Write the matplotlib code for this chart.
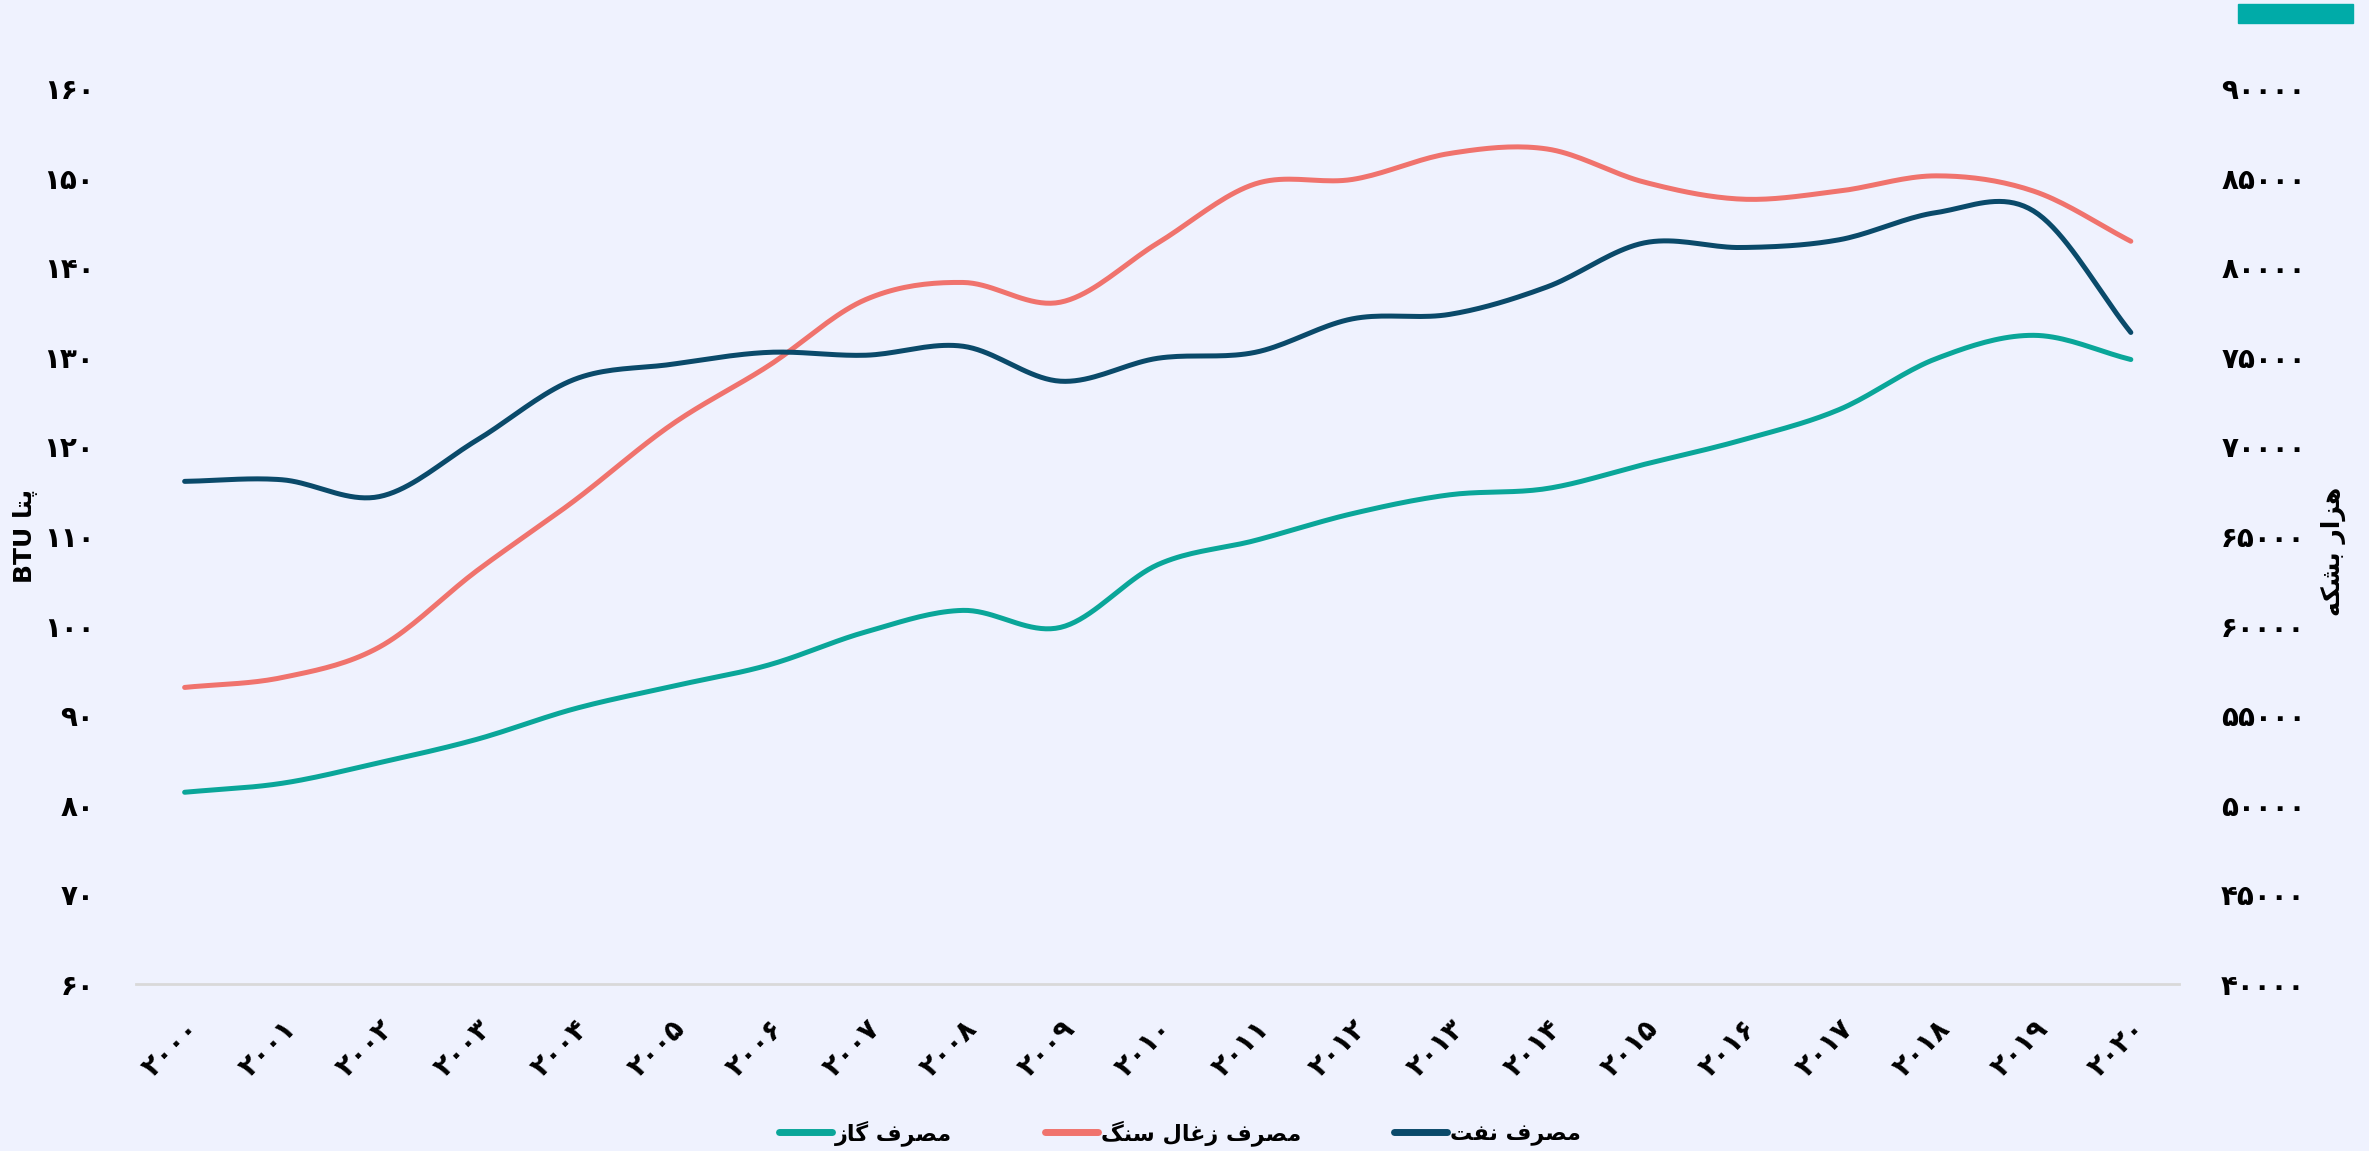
import matplotlib
matplotlib.use("Agg")
import matplotlib.pyplot as plt
import numpy as np
from matplotlib.lines import Line2D
from matplotlib.patches import Rectangle

plt.rcParams['font.family'] = ['DejaVu Sans']

years = list(range(2000, 2021))
gas = [81.4, 82.4, 84.7, 87.3, 90.7, 93.2, 95.6, 99.3, 101.7, 99.8, 106.8,
       109.5, 112.5, 114.6, 115.3, 118.0, 120.7, 124.1, 129.8, 132.4, 129.7]
coal = [93.1, 94.2, 97.6, 106.1, 113.9, 122.4, 129.0, 136.4, 138.3, 136.1, 142.7,
        149.3, 149.8, 152.7, 153.2, 149.5, 147.6, 148.5, 150.2, 148.5, 142.9]
oil = [68050, 68140, 67200, 70340, 73730, 74580, 75250, 75090, 75590, 73640, 74920,
       75250, 77120, 77370, 78900, 81360, 81100, 81530, 83050, 83140, 76360]

left_ticks = list(range(60, 161, 10))
right_ticks = list(range(40000, 90001, 5000))

lbl_gas = "مصرف گاز"
lbl_coal = "مصرف زغال سنگ"
lbl_oil = "مصرف نفت"
lbl_left = "پتا"
lbl_right = "هزار بشکه"

c_gas = "#0aa699"
c_coal = "#f0736d"
c_oil = "#0a4a6a"
bg = "#eff2fe"

# contextual forms: isolated, final, initial, medial
FORMS = {
    'ا': ('\uFE8D', '\uFE8E', None, None),
    'ب': ('\uFE8F', '\uFE90', '\uFE91', '\uFE92'),
    'پ': ('\uFB56', '\uFB57', '\uFB58', '\uFB59'),
    'ت': ('\uFE95', '\uFE96', '\uFE97', '\uFE98'),
    'ر': ('\uFEAD', '\uFEAE', None, None),
    'ز': ('\uFEAF', '\uFEB0', None, None),
    'س': ('\uFEB1', '\uFEB2', '\uFEB3', '\uFEB4'),
    'ش': ('\uFEB5', '\uFEB6', '\uFEB7', '\uFEB8'),
    'ص': ('\uFEB9', '\uFEBA', '\uFEBB', '\uFEBC'),
    'غ': ('\uFECD', '\uFECE', '\uFECF', '\uFED0'),
    'ف': ('\uFED1', '\uFED2', '\uFED3', '\uFED4'),
    'ک': ('\uFB8E', '\uFB8F', '\uFB90', '\uFB91'),
    'گ': ('\uFB92', '\uFB93', '\uFB94', '\uFB95'),
    'ل': ('\uFEDD', '\uFEDE', '\uFEDF', '\uFEE0'),
    'م': ('\uFEE1', '\uFEE2', '\uFEE3', '\uFEE4'),
    'ن': ('\uFEE5', '\uFEE6', '\uFEE7', '\uFEE8'),
    'ه': ('\uFEE9', '\uFEEA', '\uFEEB', '\uFEEC'),
}


def shape_word(word):
    out = []
    for i, ch in enumerate(word):
        if ch not in FORMS:
            out.append(ch)
            continue
        prev = word[i - 1] if i > 0 else None
        nxt = word[i + 1] if i + 1 < len(word) else None
        join_prev = prev in FORMS and FORMS[prev][2] is not None
        join_next = nxt in FORMS and FORMS[ch][2] is not None
        iso, fin, ini, med = FORMS[ch]
        if join_prev and join_next:
            out.append(med)
        elif join_prev:
            out.append(fin)
        elif join_next:
            out.append(ini)
        else:
            out.append(iso)
    return ''.join(out)


def fa(text):
    # shape each word and lay the line out right to left
    words = [shape_word(w)[::-1] for w in text.split(' ')]
    return ' '.join(words[::-1])


def fa_digits(n):
    return ''.join(chr(0x06F0 + int(d)) for d in str(n))


def smooth(x, y, n=20):
    # catmull-rom through the points
    x = np.asarray(x, float)
    y = np.asarray(y, float)
    px = np.concatenate([[2 * x[0] - x[1]], x, [2 * x[-1] - x[-2]]])
    py = np.concatenate([[2 * y[0] - y[1]], y, [2 * y[-1] - y[-2]]])
    xs, ys = [], []
    t = np.linspace(0, 1, n, endpoint=False)
    for i in range(1, len(px) - 2):
        for p, acc in ((px, xs), (py, ys)):
            p0, p1, p2, p3 = p[i - 1], p[i], p[i + 1], p[i + 2]
            acc.extend(0.5 * (2 * p1 + (-p0 + p2) * t + (2 * p0 - 5 * p1 + 4 * p2 - p3) * t ** 2
                              + (-p0 + 3 * p1 - 3 * p2 + p3) * t ** 3))
    xs.append(x[-1])
    ys.append(y[-1])
    return np.array(xs), np.array(ys)


fig = plt.figure(figsize=(23.69, 11.51), dpi=100, facecolor=bg)
ax = fig.add_axes([0.0574, 0.1451, 0.8626, 0.7784])
ax.set_facecolor(bg)
ax2 = ax.twinx()

lw = 3.6
ax.plot(*smooth(years, gas), color=c_gas, lw=lw, solid_capstyle='round')
ax.plot(*smooth(years, coal), color=c_coal, lw=lw, solid_capstyle='round')
ax2.plot(*smooth(years, oil), color=c_oil, lw=lw, solid_capstyle='round')

ax.set_xlim(1999.5, 2020.5)
ax.set_ylim(60, 160)
ax2.set_ylim(40000, 90000)

ax.set_yticks(left_ticks)
ax.set_yticklabels([fa_digits(v) for v in left_ticks], fontsize=20, fontweight='bold')
ax2.set_yticks(right_ticks)
ax2.set_yticklabels([fa_digits(v) for v in right_ticks], fontsize=20, fontweight='bold')
ax.set_xticks(years)
ax.set_xticklabels([fa_digits(v) for v in years], fontsize=20, fontweight='bold',
                   rotation=45, ha='right', rotation_mode='anchor')

ax.tick_params(axis='y', length=0, pad=30)
ax2.tick_params(axis='y', length=0, pad=30)
ax.tick_params(axis='x', length=0, pad=22)

for a in (ax, ax2):
    for s in a.spines.values():
        s.set_visible(False)
ax.spines['bottom'].set_visible(True)
ax.spines['bottom'].set_color('#d9d9d9')
ax.spines['bottom'].set_linewidth(2)

fig.text(0.0106, 0.534, "BTU " + fa(lbl_left), rotation=90, ha='center', va='center',
         fontsize=18, fontweight='bold')
fig.text(0.985, 0.521, fa(lbl_right), rotation=90, ha='center', va='center',
         fontsize=18, fontweight='bold')

handles = [Line2D([0], [0], color=c, lw=5, solid_capstyle='round') for c in (c_gas, c_coal, c_oil)]
fig.legend(handles, [fa(lbl_gas), fa(lbl_coal), fa(lbl_oil)], loc='center',
           bbox_to_anchor=(0.498, 0.016), ncol=3, frameon=False, handlelength=2.4,
           handletextpad=0.1, columnspacing=4.2, prop={'size': 16, 'weight': 'bold'})

fig.patches.append(Rectangle((2238 / 2369, 1 - 23 / 1151), 115 / 2369, 19 / 1151,
                             transform=fig.transFigure, color="#00aba8"))

fig.savefig("out.png", dpi=100, facecolor=bg)
